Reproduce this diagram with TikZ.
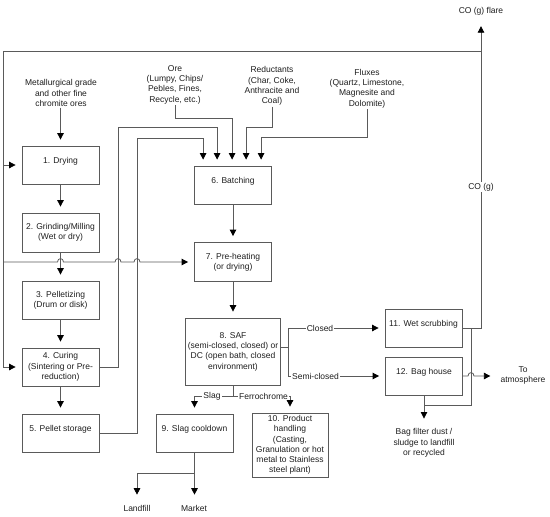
\documentclass[tikz,border=0pt]{standalone}
\usepackage{fontspec}
\setmainfont{Liberation Sans}
\usetikzlibrary{arrows.meta,calc}
\definecolor{ln}{HTML}{5A5A5A}
\definecolor{tx}{HTML}{1E1E1E}
\begin{document}
\begin{tikzpicture}[x=1pt,y=-1pt,
  every node/.style={font=\fontsize{8.5}{10.3}\selectfont, text=tx, align=center, inner sep=1pt},
  box/.style={draw=ln, line width=0.8pt, minimum width=77pt, minimum height=38pt, inner sep=1pt},
  one/.style={text height=6pt, text depth=9pt},
  onl/.style={fill=white, inner sep=1pt},
  conn/.style={draw=ln, line width=0.8pt},
  arr/.style={conn, -{Triangle[length=6.5pt,width=6.5pt,color=black]}, shorten >=6pt}
]
\useasboundingbox (0,0) rectangle (550,517);

% boxes
\node[box,one] (dry) at (60.5,165) {1. Drying};
\node[box,minimum height=39pt] (grind) at (60.5,232.5) {2. Grinding/Milling\\(Wet or dry)};
\node[box] (pell) at (60.5,300) {3. Pelletizing\\(Drum or disk)};
\node[box] (cure) at (60.5,367) {4. Curing\\(Sintering or Pre-\\reduction)};
\node[box,one] (store) at (60.5,433) {5. Pellet storage};
\node[box,one] (batch) at (233,185) {6. Batching};
\node[box,minimum height=39pt] (pre) at (233,262) {7. Pre-heating\\(or drying)};
\node[box,minimum width=95pt,minimum height=67pt] (saf) at (233,351.5) {8. SAF\\(semi-closed, closed) or\\DC (open bath, closed\\environment)};
\node[box,one] (slag) at (194.5,433) {9. Slag cooldown};
\node[box,minimum width=76pt,minimum height=64pt] (prod) at (290,445) {10. Product\\handling\\(Casting,\\Granulation or hot\\metal to Stainless\\steel plant)};
\node[box,one] (wet) at (423.5,328) {11. Wet scrubbing};
\node[box,one] (bag) at (424,376) {12. Bag house};

% free texts
\node (meta) at (61,93) {Metallurgical grade\\and other fine\\chromite ores};
\node (ore) at (175,84.5) {Ore\\(Lumpy, Chips/\\Pebles, Fines,\\Recycle, etc.)};
\node (red) at (272,86) {Reductants\\(Char, Coke,\\Anthracite and\\Coal)};
\node (flux) at (367,88.5) {Fluxes\\(Quartz, Limestone,\\Magnesite and\\Dolomite)};
\node (flare) at (481,11) {CO (g) flare};
\node (atm) at (523,375.5) {To\\atmosphere};
\node (dust) at (424,443) {Bag filter dust /\\sludge to landfill\\or recycled};
\node (land) at (137,508) {Landfill};
\node (mkt) at (194,508) {Market};

% coordinates
\coordinate (J) at (481,51);
\coordinate (TL) at (3,51);
\coordinate (sp) at (288,347);
\coordinate (sb) at (233,396);
\coordinate (sk) at (194.5,473);

% left chain
\draw[arr] (dry.north |- meta.south) -- (dry.north);
\draw[arr] (dry) -- (grind);
\draw[arr] (grind) -- (pell);
\draw[arr] (pell) -- (cure);
\draw[arr] (cure) -- (store);

% top loop
\draw[arr] (J) -- (TL) |- (cure.west);
\draw[arr] (TL |- dry.west) -- (dry.west);
\draw[arr] (TL |- pre.west) -- (57.5,262) .. controls (57.5,257.5) and (63.5,257.5) .. (63.5,262)
  -- (115,262) .. controls (115,257.5) and (121,257.5) .. (121,262)
  -- (134,262) .. controls (134,257.5) and (140,257.5) .. (140,262) -- (pre.west);

% inputs to batching
\draw[arr] (cure.east) -| (118,127) -| ([xshift=23pt]batch.north west);
\draw[arr] (store.east) -| (137,138) -| ([xshift=9pt]batch.north west);
\draw[arr] (ore.south) -- (ore.south |- 0,118) -| ([xshift=38pt]batch.north west);
\draw[arr] (red.south) -- (red.south |- 0,127) -| ([xshift=52pt]batch.north west);
\draw[arr] (flux.south) -- (flux.south |- 0,137) -| ([xshift=67pt]batch.north west);

% main line
\draw[arr] (batch) -- (pre);
\draw[arr] (pre) -- (saf);

% off-gas
\draw[conn] ([yshift=4.5pt]saf.east) -- (sp);
\draw[arr] (sp) |- (wet.west);
\draw[arr] (sp) |- (bag.west);
\draw[arr,shorten >=10pt] (wet.east) -| (flare.south);
\draw[conn] (471,328) -- (471,405) -- (bag.south |- 0,405);
\draw[arr,shorten >=9pt] (bag.south) -- (bag.south |- dust.north);
\draw[arr,shorten >=9pt] (bag.east) -- (468,376) .. controls (468,371.5) and (474,371.5) .. (474,376) -- (bag.east -| atm.west);

% products
\draw[conn] (saf.south) -- (sb);
\draw[arr] (sb) -| (slag.north);
\draw[arr] (sb) -| (prod.north);
\draw[arr,shorten >=9pt] (slag.south) -- (slag.south |- mkt.north);
\draw[arr,shorten >=9pt] (sk) -| (land.north);

% labels on lines
\node[onl] (cog) at (481,187) {CO (g)};
\node[onl] (closed) at (320,328) {Closed};
\node[onl] (semi) at (315.5,376) {Semi-closed};
\node[onl] (slaglab) at (212,396) {Slag};
\node[onl] (ferro) at (263.5,396) {Ferrochrome};
\end{tikzpicture}
\end{document}
